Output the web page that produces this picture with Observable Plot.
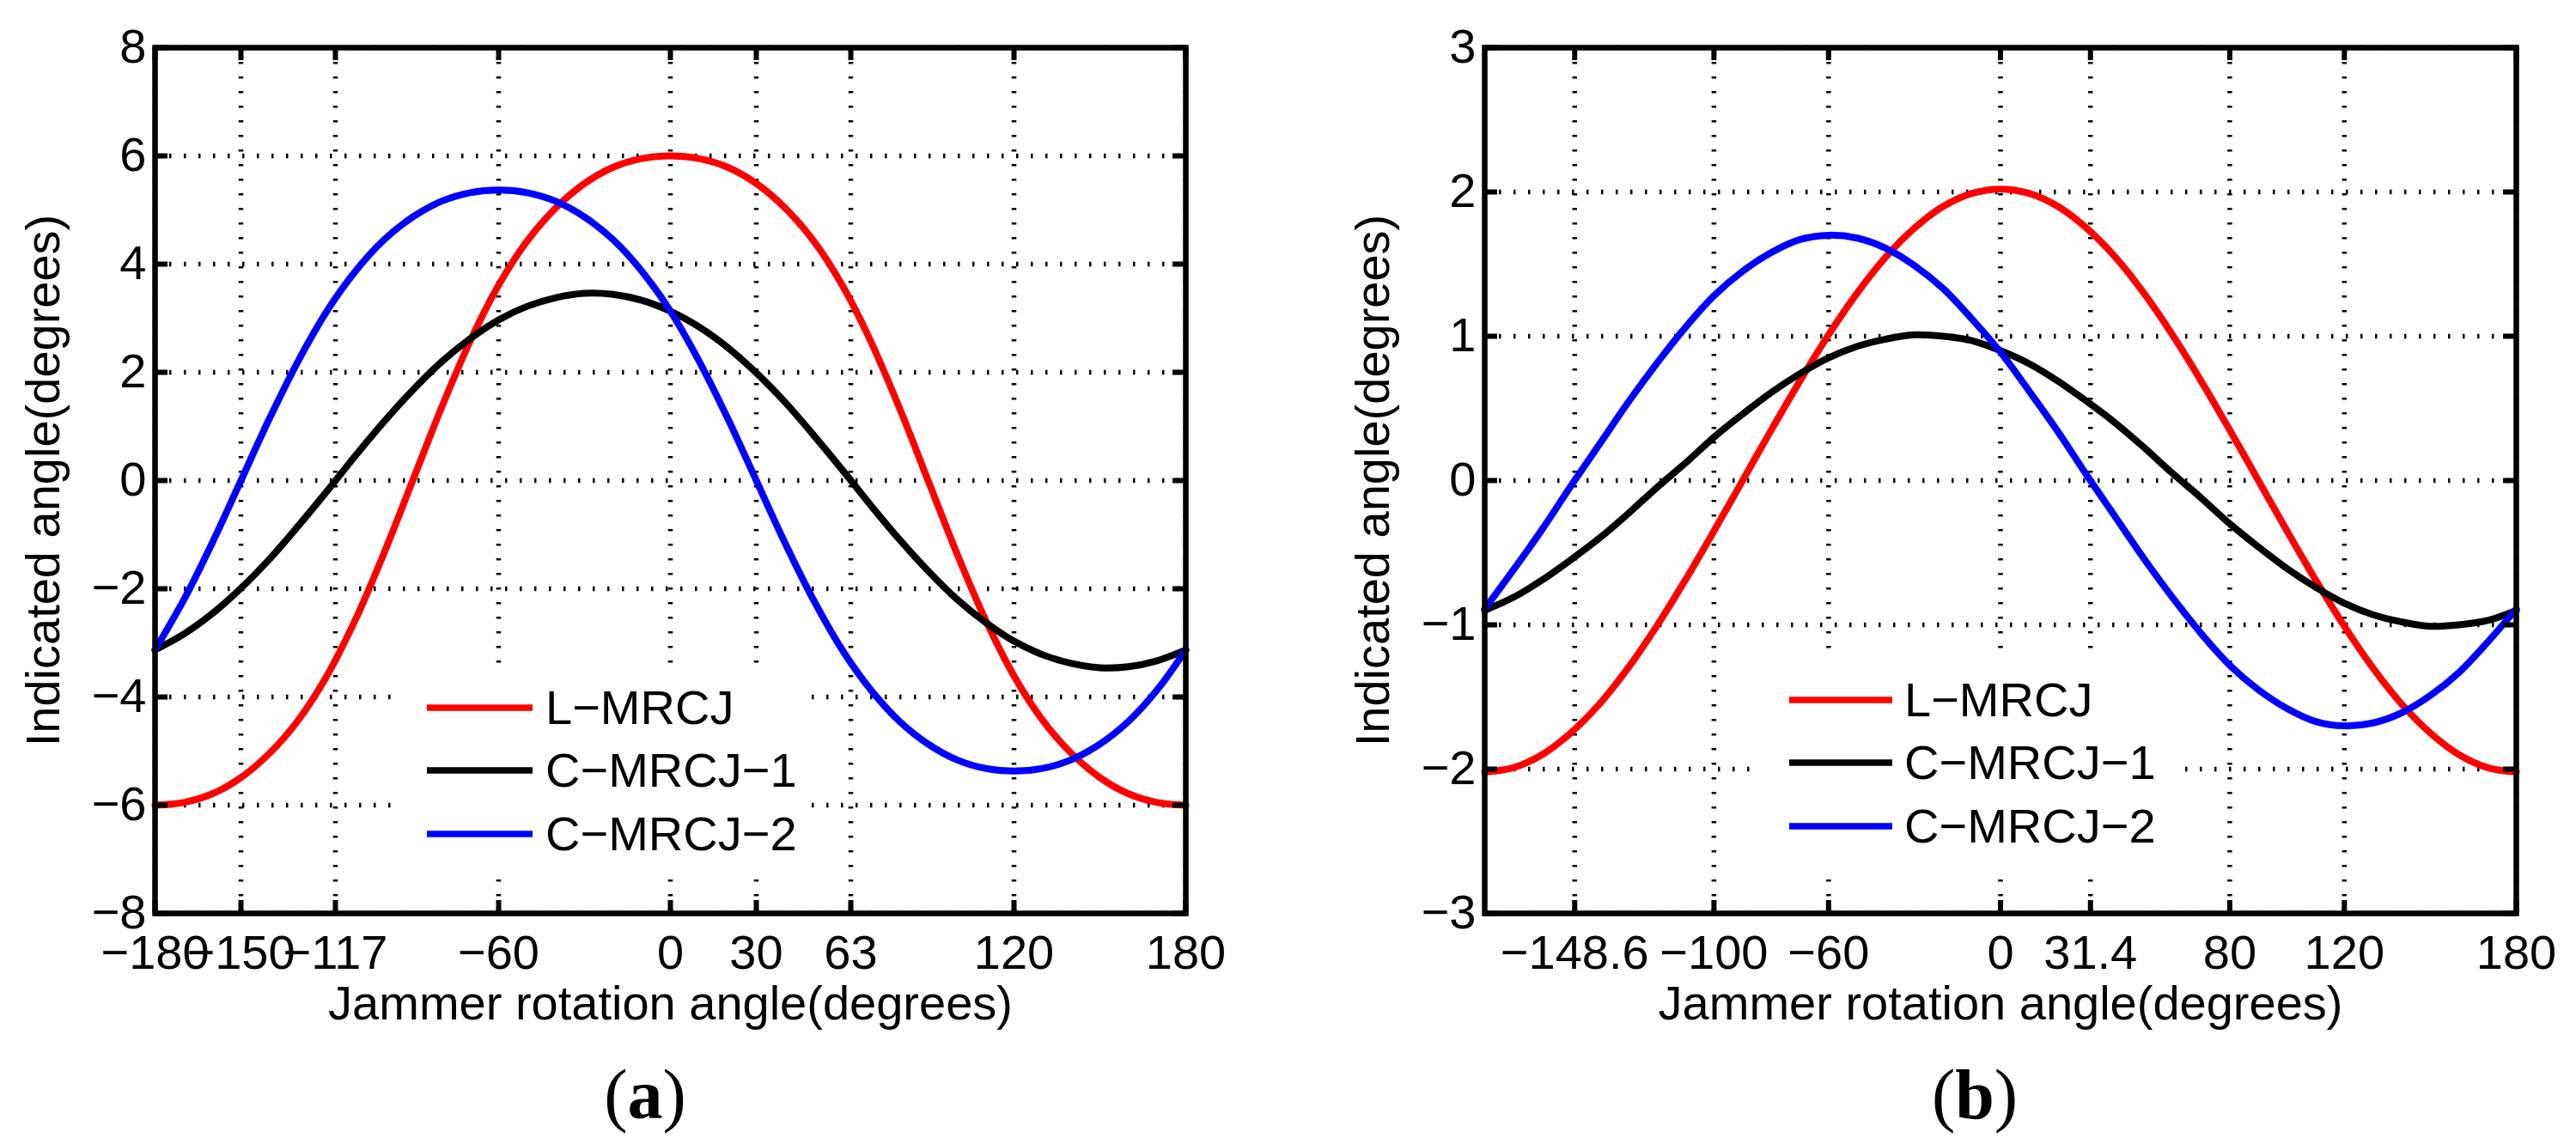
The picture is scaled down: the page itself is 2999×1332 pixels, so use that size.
<!DOCTYPE html>
<html>
<head>
<meta charset="utf-8">
<script src="https://cdn.jsdelivr.net/npm/d3@7"></script>
<script src="https://cdn.jsdelivr.net/npm/@observablehq/plot@0.6"></script>
<style>
  body { margin: 0; background: #fff; }
  #fig { position: relative; width: 2999px; height: 1332px; overflow: hidden; background: #fff;
         font-family: "Liberation Sans", Arial, Helvetica, sans-serif; }
  .panel { position: absolute; top: 0; width: 1500px; height: 1332px; }
  .panel svg { position: absolute; left: 0; top: 0; overflow: visible; }
  .legend { position: absolute; background: #fff; font-size: 56px; color: #000; }
  .legend .row { position: absolute; left: 0; height: 0; }
  .legend .row svg { position: absolute; top: -6px; overflow: visible; }
  .legend .row span { position: absolute; top: -33px; line-height: 66px; white-space: nowrap; }
  .cap { position: absolute; font-family: "Liberation Serif", "Times New Roman", serif;
         font-size: 82px; line-height: 82px; white-space: nowrap; transform: translateX(-50%); color: #000; }
</style>
</head>
<body>
<div id="fig"></div>
<script>
// ---- data ----
const angles = [-180,-170,-160,-150,-140,-130,-120,-110,-100,-90,-80,-70,-60,-50,-40,-30,-20,-10,0,
                10,20,30,40,50,60,70,80,90,100,110,120,130,140,150,160,170,180];
const seriesNames = ["L\u2212MRCJ", "C\u2212MRCJ\u22121", "C\u2212MRCJ\u22122"];
const seriesColors = ["#ff0000", "#000000", "#0000ff"];

// panel (a)
const lmrcjA  = [-6.00,-5.95,-5.79,-5.49,-5.04,-4.43,-3.61,-2.57,-1.34,0,1.34,2.57,3.61,4.43,5.04,5.49,5.79,5.95,6.00,
                 5.95,5.79,5.49,5.04,4.43,3.61,2.57,1.34,0,-1.34,-2.57,-3.61,-4.43,-5.04,-5.49,-5.79,-5.95,-6.00];
const cmrcj1A = [-3.13,-2.84,-2.46,-1.99,-1.45,-0.84,-0.20,0.46,1.09,1.67,2.19,2.62,2.97,3.22,3.38,3.46,3.44,3.33,3.13,
                 2.84,2.46,1.99,1.45,0.84,0.20,-0.46,-1.09,-1.67,-2.19,-2.62,-2.97,-3.22,-3.38,-3.46,-3.44,-3.33,-3.13];
const cmrcj2A = [-3.13,-2.21,-1.15,0,1.15,2.21,3.13,3.87,4.45,4.87,5.16,5.32,5.37,5.32,5.16,4.87,4.45,3.87,3.13,
                 2.21,1.15,0,-1.15,-2.21,-3.13,-3.87,-4.45,-4.87,-5.16,-5.32,-5.37,-5.32,-5.16,-4.87,-4.45,-3.87,-3.13];
const xTicksA = [-180,-150,-117,-60,0,30,63,120,180];
const yTicksA = [-8,-6,-4,-2,0,2,4,6,8];

// panel (b)
const lmrcjB  = [-2.02,-1.99,-1.90,-1.75,-1.55,-1.30,-1.01,-0.69,-0.35,0,0.35,0.69,1.01,1.30,1.55,1.75,1.90,1.99,2.02,
                 1.99,1.90,1.75,1.55,1.30,1.01,0.69,0.35,0,-0.35,-0.69,-1.01,-1.30,-1.55,-1.75,-1.90,-1.99,-2.02];
const cmrcj1B = [-0.90,-0.81,-0.69,-0.55,-0.40,-0.23,-0.05,0.12,0.30,0.46,0.61,0.74,0.85,0.93,0.98,1.01,1.00,0.97,0.90,
                 0.81,0.69,0.55,0.40,0.23,0.05,-0.12,-0.30,-0.46,-0.61,-0.74,-0.85,-0.93,-0.98,-1.01,-1.00,-0.97,-0.90];
const cmrcj2B = [-0.89,-0.62,-0.34,-0.04,0.25,0.54,0.81,1.06,1.28,1.45,1.58,1.67,1.70,1.68,1.61,1.49,1.33,1.12,0.89,
                 0.62,0.34,0.04,-0.25,-0.54,-0.81,-1.06,-1.28,-1.45,-1.58,-1.67,-1.70,-1.68,-1.61,-1.49,-1.33,-1.12,-0.89];
const xTicksB = [-148.6,-100,-60,0,31.4,80,120,180];
const yTicksB = [-3,-2,-1,0,1,2,3];

const xLabel = "Jammer rotation angle(degrees)";
const yLabel = "Indicated angle(degrees)";

// ---- drawing ----
const fmt = d => (d < 0 ? "\u2212" + Math.abs(d) : String(d));
const FONT = "'Liberation Sans', Arial, Helvetica, sans-serif";

function makePanel(cfg) {
  const W = 1500, H = 1215, mt = 55, mb = H - 1063;
  const plotW = W - cfg.ml - cfg.mr, plotH = H - mt - mb;
  const grid = {stroke: "black", strokeOpacity: 1, strokeWidth: 5.5, strokeDasharray: "2.5,14.5"};
  const lines = cfg.series.map((vals, i) =>
    Plot.line(angles.map((a, j) => ({angle: a, value: vals[j]})),
      {x: "angle", y: "value", stroke: seriesColors[i], strokeWidth: 8, curve: "catmull-rom"}));
  return Plot.plot({
    width: W, height: H,
    marginLeft: cfg.ml, marginRight: cfg.mr, marginTop: mt, marginBottom: mb,
    style: {fontFamily: FONT, fontSize: "56px", background: "white", color: "black", overflow: "visible"},
    x: {domain: [-180, 180]},
    y: {domain: cfg.yDomain},
    marks: [
      Plot.gridX(cfg.xTicks, grid),
      Plot.gridY(cfg.yTicks, grid),
      ...lines,
      Plot.ruleX(cfg.xTicks, {stroke: "black", strokeWidth: 6, insetTop: plotH - 15}),
      Plot.ruleX(cfg.xTicks, {stroke: "black", strokeWidth: 6, insetBottom: plotH - 15}),
      Plot.ruleY(cfg.yTicks, {stroke: "black", strokeWidth: 6, insetRight: plotW - 15}),
      Plot.ruleY(cfg.yTicks, {stroke: "black", strokeWidth: 6, insetLeft: plotW - 15}),
      Plot.frame({stroke: "black", strokeWidth: 6.5}),
      Plot.axisX(cfg.xTicks, {tickSize: 0, tickPadding: 25, tickFormat: fmt, label: null, fontSize: 56}),
      Plot.axisY(cfg.yTicks, {tickSize: 0, tickPadding: 10, tickFormat: fmt, label: null, fontSize: 56}),
      Plot.text([xLabel], {frameAnchor: "bottom", dy: 106, textAnchor: "middle", lineAnchor: "middle", fontSize: 56, fill: "black"}),
      Plot.text([yLabel], {frameAnchor: "left", dx: -129, rotate: -90, textAnchor: "middle", lineAnchor: "middle", fontSize: 56, fill: "black"})
    ]
  });
}

function makeLegend(box) {
  const lg = document.createElement("div");
  lg.className = "legend";
  Object.assign(lg.style, {left: box.left + "px", top: box.top + "px", width: box.width + "px", height: box.height + "px"});
  seriesNames.forEach((name, i) => {
    const row = document.createElement("div");
    row.className = "row";
    row.style.top = box.rows[i] + "px";
    row.innerHTML =
      `<svg width="${box.lineW}" height="12" style="left:${box.lineX}px"><line x1="0" x2="${box.lineW}" y1="6" y2="6" stroke="${seriesColors[i]}" stroke-width="7.7"/></svg>` +
      `<span style="left:${box.textX}px">${name}</span>`;
    lg.appendChild(row);
  });
  return lg;
}

const fig = document.getElementById("fig");
const panels = [
  {left: 0, ml: 180, mr: 120, yDomain: [-8, 8], xTicks: xTicksA, yTicks: yTicksA,
   series: [lmrcjA, cmrcj1A, cmrcj2A], cap: "a", capX: 751,
   legend: {left: 458, top: 776, width: 482, height: 246, rows: [48, 121, 195], lineX: 39, lineW: 123, textX: 177}},
  {left: 1500, ml: 228, mr: 71, yDomain: [-3, 3], xTicks: xTicksB, yTicks: yTicksB,
   series: [lmrcjB, cmrcj1B, cmrcj2B], cap: "b", capX: 799,
   legend: {left: 540, top: 767, width: 497, height: 246, rows: [48, 121, 195], lineX: 43, lineW: 120, textX: 177}}
];
panels.forEach(p => {
  const div = document.createElement("div");
  div.className = "panel";
  div.style.left = p.left + "px";
  div.appendChild(makePanel(p));
  div.appendChild(makeLegend(p.legend));
  const cap = document.createElement("div");
  cap.className = "cap";
  cap.style.left = p.capX + "px";
  cap.style.top = "1234px";
  cap.innerHTML = `(<b>${p.cap}</b>)`;
  div.appendChild(cap);
  fig.appendChild(div);
});
</script>
</body>
</html>
